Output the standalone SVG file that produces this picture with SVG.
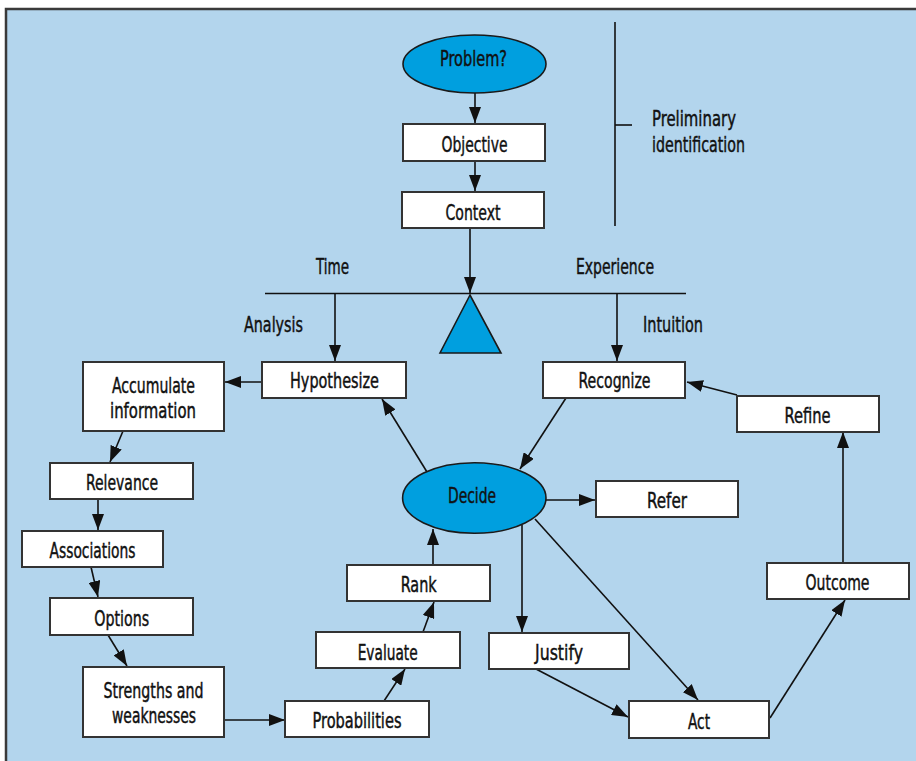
<svg xmlns="http://www.w3.org/2000/svg" width="916" height="761" viewBox="0 0 916 761">
<style>
.bg{fill:#b3d5ed;stroke:#3a3a3a;stroke-width:2.5}
.box{fill:#ffffff;stroke:#333333;stroke-width:2}
.ell{fill:#009fdf;stroke:#1a1a1a;stroke-width:1.6}
.t{font-family:"Liberation Sans Narrow","DejaVu Sans Condensed","Liberation Sans",sans-serif;font-size:22px;fill:#111111;stroke:#111111;stroke-width:0.45;text-anchor:middle}
.l{text-anchor:start}
.c{fill:none;stroke:#111111;stroke-width:1.6}
.a{marker-end:url(#arr)}
</style>
<defs>
<marker id="arr" markerUnits="userSpaceOnUse" markerWidth="16" markerHeight="12" refX="16" refY="6" orient="auto">
<path d="M0,0 L16,6 L0,12 z" fill="#111111"/>
</marker>
</defs>
<rect class="bg" x="6" y="9" width="940" height="800"/>

<g id="connectors">
<line class="c a" x1="475" y1="93" x2="475" y2="123"/>
<line class="c a" x1="475" y1="161" x2="475" y2="191"/>
<line class="c a" x1="470" y1="228" x2="470" y2="293"/>
<line class="c" x1="265" y1="293.5" x2="686" y2="293.5"/>
<line class="c a" x1="335" y1="293.5" x2="335" y2="361"/>
<line class="c a" x1="617" y1="293.5" x2="617" y2="361"/>
<line class="c a" x1="262" y1="382" x2="225" y2="382"/>
<line class="c a" x1="123" y1="431" x2="110" y2="462"/>
<line class="c a" x1="98" y1="499" x2="98" y2="530"/>
<line class="c a" x1="91" y1="567" x2="98" y2="597"/>
<line class="c a" x1="108" y1="635" x2="127" y2="666"/>
<line class="c a" x1="224" y1="720" x2="285" y2="720"/>
<line class="c a" x1="384" y1="701" x2="405" y2="669"/>
<line class="c a" x1="423" y1="632" x2="434" y2="602"/>
<line class="c a" x1="433" y1="565" x2="433" y2="529"/>
<line class="c a" x1="427" y1="472" x2="382" y2="399"/>
<line class="c a" x1="566" y1="398" x2="520" y2="469"/>
<line class="c a" x1="546" y1="500" x2="595" y2="500"/>
<line class="c a" x1="522" y1="525" x2="522" y2="632"/>
<line class="c a" x1="535" y1="519" x2="698" y2="700"/>
<line class="c a" x1="536" y1="669" x2="628" y2="717"/>
<line class="c a" x1="770" y1="718" x2="845" y2="600"/>
<line class="c a" x1="843" y1="563" x2="843" y2="432"/>
<line class="c a" x1="737" y1="395" x2="687" y2="382"/>
<line class="c" x1="615" y1="22" x2="615" y2="226"/>
<line class="c" x1="615" y1="125" x2="632" y2="125"/>
</g>

<g id="balance">
<polygon points="470,295 440,353 501,353" fill="#009fdf" stroke="#1a1a1a" stroke-width="1.6"/>
</g>

<g id="labels">
<text class="t l" x="652" y="126" textLength="84" lengthAdjust="spacingAndGlyphs">Preliminary</text>
<text class="t l" x="652" y="152" textLength="93" lengthAdjust="spacingAndGlyphs">identification</text>
<text class="t" x="332.5" y="274" textLength="33" lengthAdjust="spacingAndGlyphs">Time</text>
<text class="t" x="615" y="274" textLength="78" lengthAdjust="spacingAndGlyphs">Experience</text>
<text class="t" x="273.5" y="332" textLength="59" lengthAdjust="spacingAndGlyphs">Analysis</text>
<text class="t" x="673" y="332" textLength="60" lengthAdjust="spacingAndGlyphs">Intuition</text>
</g>

<g id="problem">
<ellipse class="ell" cx="474.5" cy="64" rx="71.5" ry="29"/>
<text class="t" x="473.5" y="66" textLength="67" lengthAdjust="spacingAndGlyphs">Problem?</text>
</g>
<g id="objective">
<rect class="box" x="403" y="124" width="142" height="37"/>
<text class="t" x="474.5" y="152" textLength="66" lengthAdjust="spacingAndGlyphs">Objective</text>
</g>
<g id="context">
<rect class="box" x="402" y="192" width="142" height="36"/>
<text class="t" x="473" y="220" textLength="55" lengthAdjust="spacingAndGlyphs">Context</text>
</g>
<g id="hypothesize">
<rect class="box" x="262" y="362" width="144" height="36"/>
<text class="t" x="334.5" y="388" textLength="89" lengthAdjust="spacingAndGlyphs">Hypothesize</text>
</g>
<g id="recognize">
<rect class="box" x="543" y="362" width="142" height="36"/>
<text class="t" x="614.5" y="388" textLength="72" lengthAdjust="spacingAndGlyphs">Recognize</text>
</g>
<g id="accumulate">
<rect class="box" x="83" y="362" width="141" height="69"/>
<text class="t" x="153.5" y="393" textLength="83" lengthAdjust="spacingAndGlyphs">Accumulate</text>
<text class="t" x="153" y="418" textLength="86" lengthAdjust="spacingAndGlyphs">information</text>
</g>
<g id="relevance">
<rect class="box" x="50" y="463" width="143" height="36"/>
<text class="t" x="122" y="490" textLength="72" lengthAdjust="spacingAndGlyphs">Relevance</text>
</g>
<g id="associations">
<rect class="box" x="22" y="531" width="141" height="36"/>
<text class="t" x="92.5" y="558" textLength="86" lengthAdjust="spacingAndGlyphs">Associations</text>
</g>
<g id="options">
<rect class="box" x="50" y="598" width="143" height="37"/>
<text class="t" x="121.7" y="626" textLength="55" lengthAdjust="spacingAndGlyphs">Options</text>
</g>
<g id="strengths">
<rect class="box" x="83" y="667" width="141" height="70"/>
<text class="t" x="153.5" y="698" textLength="100" lengthAdjust="spacingAndGlyphs">Strengths and</text>
<text class="t" x="154" y="723" textLength="84" lengthAdjust="spacingAndGlyphs">weaknesses</text>
</g>
<g id="probabilities">
<rect class="box" x="285" y="701" width="144" height="36"/>
<text class="t" x="357" y="728" textLength="89" lengthAdjust="spacingAndGlyphs">Probabilities</text>
</g>
<g id="evaluate">
<rect class="box" x="316" y="632" width="144" height="36"/>
<text class="t" x="387.7" y="660" textLength="60" lengthAdjust="spacingAndGlyphs">Evaluate</text>
</g>
<g id="rank">
<rect class="box" x="347" y="565" width="143" height="36"/>
<text class="t" x="418.7" y="592" textLength="36" lengthAdjust="spacingAndGlyphs">Rank</text>
</g>
<g id="decide">
<ellipse class="ell" cx="474.3" cy="498" rx="71.7" ry="35.3"/>
<text class="t" x="472" y="503" textLength="48" lengthAdjust="spacingAndGlyphs">Decide</text>
</g>
<g id="refer">
<rect class="box" x="596" y="481" width="142" height="36"/>
<text class="t" x="667" y="508" textLength="40" lengthAdjust="spacingAndGlyphs">Refer</text>
</g>
<g id="justify">
<rect class="box" x="489" y="633" width="140" height="36"/>
<text class="t" x="559" y="660" textLength="48" lengthAdjust="spacingAndGlyphs">Justify</text>
</g>
<g id="act">
<rect class="box" x="629" y="701" width="140" height="37"/>
<text class="t" x="699" y="729" textLength="22" lengthAdjust="spacingAndGlyphs">Act</text>
</g>
<g id="outcome">
<rect class="box" x="767" y="563" width="142" height="36"/>
<text class="t" x="837.5" y="590" textLength="64" lengthAdjust="spacingAndGlyphs">Outcome</text>
</g>
<g id="refine">
<rect class="box" x="737" y="396" width="142" height="36"/>
<text class="t" x="807.5" y="423" textLength="46" lengthAdjust="spacingAndGlyphs">Refine</text>
</g>
</svg>
